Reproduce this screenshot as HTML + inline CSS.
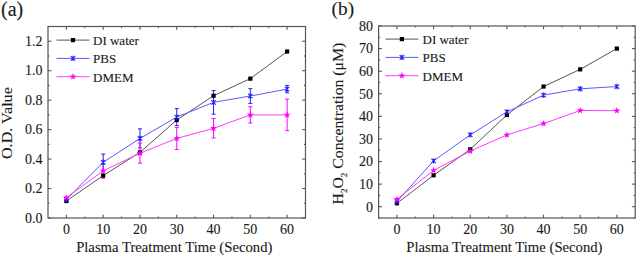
<!DOCTYPE html>
<html><head><meta charset="utf-8"><style>
html,body{margin:0;padding:0;background:#fff;width:637px;height:255px;overflow:hidden}
svg{display:block;font-family:"Liberation Serif",serif;fill:#1a1a1a}
text{fill:#1a1a1a;stroke:#1a1a1a;stroke-width:0.12px}
</style></head><body>
<svg width="637" height="255" viewBox="0 0 637 255">
<rect x="48.0" y="26.5" width="257.5" height="191.5" fill="none" stroke="#555" stroke-width="1.2"/>
<line x1="66.39" y1="218.0" x2="66.39" y2="214.7" stroke="#555" stroke-width="1.1"/>
<line x1="66.39" y1="26.5" x2="66.39" y2="29.8" stroke="#555" stroke-width="1.1"/>
<text x="66.39" y="233.9" font-size="14" text-anchor="middle">0</text>
<line x1="84.79" y1="218.0" x2="84.79" y2="216.5" stroke="#555" stroke-width="1.1"/>
<line x1="84.79" y1="26.5" x2="84.79" y2="28.0" stroke="#555" stroke-width="1.1"/>
<line x1="103.18" y1="218.0" x2="103.18" y2="214.7" stroke="#555" stroke-width="1.1"/>
<line x1="103.18" y1="26.5" x2="103.18" y2="29.8" stroke="#555" stroke-width="1.1"/>
<text x="103.18" y="233.9" font-size="14" text-anchor="middle">10</text>
<line x1="121.57" y1="218.0" x2="121.57" y2="216.5" stroke="#555" stroke-width="1.1"/>
<line x1="121.57" y1="26.5" x2="121.57" y2="28.0" stroke="#555" stroke-width="1.1"/>
<line x1="139.96" y1="218.0" x2="139.96" y2="214.7" stroke="#555" stroke-width="1.1"/>
<line x1="139.96" y1="26.5" x2="139.96" y2="29.8" stroke="#555" stroke-width="1.1"/>
<text x="139.96" y="233.9" font-size="14" text-anchor="middle">20</text>
<line x1="158.36" y1="218.0" x2="158.36" y2="216.5" stroke="#555" stroke-width="1.1"/>
<line x1="158.36" y1="26.5" x2="158.36" y2="28.0" stroke="#555" stroke-width="1.1"/>
<line x1="176.75" y1="218.0" x2="176.75" y2="214.7" stroke="#555" stroke-width="1.1"/>
<line x1="176.75" y1="26.5" x2="176.75" y2="29.8" stroke="#555" stroke-width="1.1"/>
<text x="176.75" y="233.9" font-size="14" text-anchor="middle">30</text>
<line x1="195.14" y1="218.0" x2="195.14" y2="216.5" stroke="#555" stroke-width="1.1"/>
<line x1="195.14" y1="26.5" x2="195.14" y2="28.0" stroke="#555" stroke-width="1.1"/>
<line x1="213.54" y1="218.0" x2="213.54" y2="214.7" stroke="#555" stroke-width="1.1"/>
<line x1="213.54" y1="26.5" x2="213.54" y2="29.8" stroke="#555" stroke-width="1.1"/>
<text x="213.54" y="233.9" font-size="14" text-anchor="middle">40</text>
<line x1="231.93" y1="218.0" x2="231.93" y2="216.5" stroke="#555" stroke-width="1.1"/>
<line x1="231.93" y1="26.5" x2="231.93" y2="28.0" stroke="#555" stroke-width="1.1"/>
<line x1="250.32" y1="218.0" x2="250.32" y2="214.7" stroke="#555" stroke-width="1.1"/>
<line x1="250.32" y1="26.5" x2="250.32" y2="29.8" stroke="#555" stroke-width="1.1"/>
<text x="250.32" y="233.9" font-size="14" text-anchor="middle">50</text>
<line x1="268.71" y1="218.0" x2="268.71" y2="216.5" stroke="#555" stroke-width="1.1"/>
<line x1="268.71" y1="26.5" x2="268.71" y2="28.0" stroke="#555" stroke-width="1.1"/>
<line x1="287.11" y1="218.0" x2="287.11" y2="214.7" stroke="#555" stroke-width="1.1"/>
<line x1="287.11" y1="26.5" x2="287.11" y2="29.8" stroke="#555" stroke-width="1.1"/>
<text x="287.11" y="233.9" font-size="14" text-anchor="middle">60</text>
<line x1="48.0" y1="218.00" x2="51.3" y2="218.00" stroke="#555" stroke-width="1.1"/>
<line x1="305.5" y1="218.00" x2="302.2" y2="218.00" stroke="#555" stroke-width="1.1"/>
<text x="42.5" y="222.80" font-size="14" text-anchor="end">0.0</text>
<line x1="48.0" y1="203.27" x2="49.5" y2="203.27" stroke="#555" stroke-width="1.1"/>
<line x1="305.5" y1="203.27" x2="304.0" y2="203.27" stroke="#555" stroke-width="1.1"/>
<line x1="48.0" y1="188.54" x2="51.3" y2="188.54" stroke="#555" stroke-width="1.1"/>
<line x1="305.5" y1="188.54" x2="302.2" y2="188.54" stroke="#555" stroke-width="1.1"/>
<text x="42.5" y="193.34" font-size="14" text-anchor="end">0.2</text>
<line x1="48.0" y1="173.81" x2="49.5" y2="173.81" stroke="#555" stroke-width="1.1"/>
<line x1="305.5" y1="173.81" x2="304.0" y2="173.81" stroke="#555" stroke-width="1.1"/>
<line x1="48.0" y1="159.08" x2="51.3" y2="159.08" stroke="#555" stroke-width="1.1"/>
<line x1="305.5" y1="159.08" x2="302.2" y2="159.08" stroke="#555" stroke-width="1.1"/>
<text x="42.5" y="163.88" font-size="14" text-anchor="end">0.4</text>
<line x1="48.0" y1="144.35" x2="49.5" y2="144.35" stroke="#555" stroke-width="1.1"/>
<line x1="305.5" y1="144.35" x2="304.0" y2="144.35" stroke="#555" stroke-width="1.1"/>
<line x1="48.0" y1="129.62" x2="51.3" y2="129.62" stroke="#555" stroke-width="1.1"/>
<line x1="305.5" y1="129.62" x2="302.2" y2="129.62" stroke="#555" stroke-width="1.1"/>
<text x="42.5" y="134.42" font-size="14" text-anchor="end">0.6</text>
<line x1="48.0" y1="114.88" x2="49.5" y2="114.88" stroke="#555" stroke-width="1.1"/>
<line x1="305.5" y1="114.88" x2="304.0" y2="114.88" stroke="#555" stroke-width="1.1"/>
<line x1="48.0" y1="100.15" x2="51.3" y2="100.15" stroke="#555" stroke-width="1.1"/>
<line x1="305.5" y1="100.15" x2="302.2" y2="100.15" stroke="#555" stroke-width="1.1"/>
<text x="42.5" y="104.95" font-size="14" text-anchor="end">0.8</text>
<line x1="48.0" y1="85.42" x2="49.5" y2="85.42" stroke="#555" stroke-width="1.1"/>
<line x1="305.5" y1="85.42" x2="304.0" y2="85.42" stroke="#555" stroke-width="1.1"/>
<line x1="48.0" y1="70.69" x2="51.3" y2="70.69" stroke="#555" stroke-width="1.1"/>
<line x1="305.5" y1="70.69" x2="302.2" y2="70.69" stroke="#555" stroke-width="1.1"/>
<text x="42.5" y="75.49" font-size="14" text-anchor="end">1.0</text>
<line x1="48.0" y1="55.96" x2="49.5" y2="55.96" stroke="#555" stroke-width="1.1"/>
<line x1="305.5" y1="55.96" x2="304.0" y2="55.96" stroke="#555" stroke-width="1.1"/>
<line x1="48.0" y1="41.23" x2="51.3" y2="41.23" stroke="#555" stroke-width="1.1"/>
<line x1="305.5" y1="41.23" x2="302.2" y2="41.23" stroke="#555" stroke-width="1.1"/>
<text x="42.5" y="46.03" font-size="14" text-anchor="end">1.2</text>
<line x1="48.0" y1="26.50" x2="49.5" y2="26.50" stroke="#555" stroke-width="1.1"/>
<line x1="305.5" y1="26.50" x2="304.0" y2="26.50" stroke="#555" stroke-width="1.1"/>
<path d="M66.39,201.06 L103.18,175.58 L139.96,152.30 L176.75,120.04 L213.54,95.73 L250.32,78.65 L287.11,51.54" fill="none" stroke="#555" stroke-width="1"/>
<path d="M66.39,199.44 L103.18,162.32 L139.96,138.45 L176.75,117.09 L213.54,102.36 L250.32,96.03 L287.11,89.11" fill="none" stroke="#5a5aff" stroke-width="1"/>
<path d="M66.39,197.67 L103.18,170.86 L139.96,153.18 L176.75,138.45 L213.54,128.29 L250.32,114.88 L287.11,114.88" fill="none" stroke="#ff3cff" stroke-width="1"/>
<path d="M103.18,154.07L103.18,170.57M101.18,154.07L105.18,154.07M101.18,170.57L105.18,170.57" stroke="#2020ff" stroke-width="1" fill="none"/>
<path d="M139.96,128.88L139.96,148.03M137.96,128.88L141.96,128.88M137.96,148.03L141.96,148.03" stroke="#2020ff" stroke-width="1" fill="none"/>
<path d="M176.75,108.55L176.75,125.64M174.75,108.55L178.75,108.55M174.75,125.64L178.75,125.64" stroke="#2020ff" stroke-width="1" fill="none"/>
<path d="M213.54,90.58L213.54,114.15M211.54,90.58L215.54,90.58M211.54,114.15L215.54,114.15" stroke="#2020ff" stroke-width="1" fill="none"/>
<path d="M250.32,88.66L250.32,103.39M248.32,88.66L252.32,88.66M248.32,103.39L252.32,103.39" stroke="#2020ff" stroke-width="1" fill="none"/>
<path d="M287.11,85.42L287.11,92.79M285.11,85.42L289.11,85.42M285.11,92.79L289.11,92.79" stroke="#2020ff" stroke-width="1" fill="none"/>
<path d="M103.18,163.50L103.18,178.23M101.18,163.50L105.18,163.50M101.18,178.23L105.18,178.23" stroke="#ff00ff" stroke-width="1" fill="none"/>
<path d="M139.96,143.17L139.96,163.20M137.96,143.17L141.96,143.17M137.96,163.20L141.96,163.20" stroke="#ff00ff" stroke-width="1" fill="none"/>
<path d="M176.75,127.41L176.75,149.50M174.75,127.41L178.75,127.41M174.75,149.50L178.75,149.50" stroke="#ff00ff" stroke-width="1" fill="none"/>
<path d="M213.54,118.57L213.54,138.01M211.54,118.57L215.54,118.57M211.54,138.01L215.54,138.01" stroke="#ff00ff" stroke-width="1" fill="none"/>
<path d="M250.32,106.78L250.32,122.99M248.32,106.78L252.32,106.78M248.32,122.99L252.32,122.99" stroke="#ff00ff" stroke-width="1" fill="none"/>
<path d="M287.11,99.12L287.11,130.65M285.11,99.12L289.11,99.12M285.11,130.65L289.11,130.65" stroke="#ff00ff" stroke-width="1" fill="none"/>
<rect x="64.29" y="198.96" width="4.2" height="4.2" fill="#000"/>
<rect x="101.08" y="173.48" width="4.2" height="4.2" fill="#000"/>
<rect x="137.86" y="150.20" width="4.2" height="4.2" fill="#000"/>
<rect x="174.65" y="117.94" width="4.2" height="4.2" fill="#000"/>
<rect x="211.44" y="93.63" width="4.2" height="4.2" fill="#000"/>
<rect x="248.22" y="76.55" width="4.2" height="4.2" fill="#000"/>
<rect x="285.01" y="49.44" width="4.2" height="4.2" fill="#000"/>
<path d="M64.19,197.24L68.59,201.64M64.19,201.64L68.59,197.24M66.39,196.74L66.39,202.14" stroke="#2020ff" stroke-width="1.1" fill="none"/>
<path d="M100.98,160.12L105.38,164.52M100.98,164.52L105.38,160.12M103.18,159.62L103.18,165.02" stroke="#2020ff" stroke-width="1.1" fill="none"/>
<path d="M137.76,136.25L142.16,140.65M137.76,140.65L142.16,136.25M139.96,135.75L139.96,141.15" stroke="#2020ff" stroke-width="1.1" fill="none"/>
<path d="M174.55,114.89L178.95,119.29M174.55,119.29L178.95,114.89M176.75,114.39L176.75,119.79" stroke="#2020ff" stroke-width="1.1" fill="none"/>
<path d="M211.34,100.16L215.74,104.56M211.34,104.56L215.74,100.16M213.54,99.66L213.54,105.06" stroke="#2020ff" stroke-width="1.1" fill="none"/>
<path d="M248.12,93.83L252.52,98.23M248.12,98.23L252.52,93.83M250.32,93.33L250.32,98.73" stroke="#2020ff" stroke-width="1.1" fill="none"/>
<path d="M284.91,86.91L289.31,91.31M284.91,91.31L289.31,86.91M287.11,86.41L287.11,91.81" stroke="#2020ff" stroke-width="1.1" fill="none"/>
<polygon points="66.39,194.07 67.27,196.46 69.82,196.56 67.82,198.14 68.51,200.58 66.39,199.17 64.28,200.58 64.97,198.14 62.97,196.56 65.51,196.46" fill="#ff00ff"/>
<polygon points="103.18,167.26 104.06,169.65 106.60,169.75 104.61,171.33 105.29,173.77 103.18,172.36 101.06,173.77 101.75,171.33 99.75,169.75 102.30,169.65" fill="#ff00ff"/>
<polygon points="139.96,149.58 140.85,151.97 143.39,152.07 141.39,153.65 142.08,156.10 139.96,154.68 137.85,156.10 138.54,153.65 136.54,152.07 139.08,151.97" fill="#ff00ff"/>
<polygon points="176.75,134.85 177.63,137.24 180.17,137.34 178.18,138.92 178.87,141.37 176.75,139.95 174.63,141.37 175.32,138.92 173.33,137.34 175.87,137.24" fill="#ff00ff"/>
<polygon points="213.54,124.69 214.42,127.08 216.96,127.18 214.96,128.75 215.65,131.20 213.54,129.79 211.42,131.20 212.11,128.75 210.11,127.18 212.65,127.08" fill="#ff00ff"/>
<polygon points="250.32,111.28 251.20,113.67 253.75,113.77 251.75,115.35 252.44,117.80 250.32,116.38 248.21,117.80 248.89,115.35 246.90,113.77 249.44,113.67" fill="#ff00ff"/>
<polygon points="287.11,111.28 287.99,113.67 290.53,113.77 288.53,115.35 289.22,117.80 287.11,116.38 284.99,117.80 285.68,115.35 283.68,113.77 286.23,113.67" fill="#ff00ff"/>
<line x1="56.5" y1="40.1" x2="89.5" y2="40.1" stroke="#555" stroke-width="1"/>
<rect x="70.90" y="38.00" width="4.2" height="4.2" fill="#000"/>
<text x="93" y="45.0" font-size="13">DI water</text>
<line x1="56.5" y1="58.400000000000006" x2="89.5" y2="58.400000000000006" stroke="#5a5aff" stroke-width="1"/>
<path d="M70.80,56.20L75.20,60.60M70.80,60.60L75.20,56.20M73.00,55.70L73.00,61.10" stroke="#2020ff" stroke-width="1.1" fill="none"/>
<text x="93" y="63.300000000000004" font-size="13">PBS</text>
<line x1="56.5" y1="76.7" x2="89.5" y2="76.7" stroke="#ff3cff" stroke-width="1"/>
<polygon points="73.00,73.10 73.88,75.49 76.42,75.59 74.43,77.16 75.12,79.61 73.00,78.20 70.88,79.61 71.57,77.16 69.58,75.59 72.12,75.49" fill="#ff00ff"/>
<text x="93" y="81.60000000000001" font-size="13">DMEM</text>
<rect x="378.6" y="26.0" width="256.6" height="192.0" fill="none" stroke="#555" stroke-width="1.2"/>
<line x1="396.93" y1="218.0" x2="396.93" y2="214.7" stroke="#555" stroke-width="1.1"/>
<line x1="396.93" y1="26.0" x2="396.93" y2="29.3" stroke="#555" stroke-width="1.1"/>
<text x="396.93" y="233.9" font-size="14" text-anchor="middle">0</text>
<line x1="415.26" y1="218.0" x2="415.26" y2="216.5" stroke="#555" stroke-width="1.1"/>
<line x1="415.26" y1="26.0" x2="415.26" y2="27.5" stroke="#555" stroke-width="1.1"/>
<line x1="433.59" y1="218.0" x2="433.59" y2="214.7" stroke="#555" stroke-width="1.1"/>
<line x1="433.59" y1="26.0" x2="433.59" y2="29.3" stroke="#555" stroke-width="1.1"/>
<text x="433.59" y="233.9" font-size="14" text-anchor="middle">10</text>
<line x1="451.91" y1="218.0" x2="451.91" y2="216.5" stroke="#555" stroke-width="1.1"/>
<line x1="451.91" y1="26.0" x2="451.91" y2="27.5" stroke="#555" stroke-width="1.1"/>
<line x1="470.24" y1="218.0" x2="470.24" y2="214.7" stroke="#555" stroke-width="1.1"/>
<line x1="470.24" y1="26.0" x2="470.24" y2="29.3" stroke="#555" stroke-width="1.1"/>
<text x="470.24" y="233.9" font-size="14" text-anchor="middle">20</text>
<line x1="488.57" y1="218.0" x2="488.57" y2="216.5" stroke="#555" stroke-width="1.1"/>
<line x1="488.57" y1="26.0" x2="488.57" y2="27.5" stroke="#555" stroke-width="1.1"/>
<line x1="506.90" y1="218.0" x2="506.90" y2="214.7" stroke="#555" stroke-width="1.1"/>
<line x1="506.90" y1="26.0" x2="506.90" y2="29.3" stroke="#555" stroke-width="1.1"/>
<text x="506.90" y="233.9" font-size="14" text-anchor="middle">30</text>
<line x1="525.23" y1="218.0" x2="525.23" y2="216.5" stroke="#555" stroke-width="1.1"/>
<line x1="525.23" y1="26.0" x2="525.23" y2="27.5" stroke="#555" stroke-width="1.1"/>
<line x1="543.56" y1="218.0" x2="543.56" y2="214.7" stroke="#555" stroke-width="1.1"/>
<line x1="543.56" y1="26.0" x2="543.56" y2="29.3" stroke="#555" stroke-width="1.1"/>
<text x="543.56" y="233.9" font-size="14" text-anchor="middle">40</text>
<line x1="561.89" y1="218.0" x2="561.89" y2="216.5" stroke="#555" stroke-width="1.1"/>
<line x1="561.89" y1="26.0" x2="561.89" y2="27.5" stroke="#555" stroke-width="1.1"/>
<line x1="580.21" y1="218.0" x2="580.21" y2="214.7" stroke="#555" stroke-width="1.1"/>
<line x1="580.21" y1="26.0" x2="580.21" y2="29.3" stroke="#555" stroke-width="1.1"/>
<text x="580.21" y="233.9" font-size="14" text-anchor="middle">50</text>
<line x1="598.54" y1="218.0" x2="598.54" y2="216.5" stroke="#555" stroke-width="1.1"/>
<line x1="598.54" y1="26.0" x2="598.54" y2="27.5" stroke="#555" stroke-width="1.1"/>
<line x1="616.87" y1="218.0" x2="616.87" y2="214.7" stroke="#555" stroke-width="1.1"/>
<line x1="616.87" y1="26.0" x2="616.87" y2="29.3" stroke="#555" stroke-width="1.1"/>
<text x="616.87" y="233.9" font-size="14" text-anchor="middle">60</text>
<line x1="378.6" y1="218.00" x2="380.1" y2="218.00" stroke="#555" stroke-width="1.1"/>
<line x1="635.2" y1="218.00" x2="633.7" y2="218.00" stroke="#555" stroke-width="1.1"/>
<line x1="378.6" y1="206.71" x2="381.90000000000003" y2="206.71" stroke="#555" stroke-width="1.1"/>
<line x1="635.2" y1="206.71" x2="631.9000000000001" y2="206.71" stroke="#555" stroke-width="1.1"/>
<text x="373.1" y="211.51" font-size="14" text-anchor="end">0</text>
<line x1="378.6" y1="195.41" x2="380.1" y2="195.41" stroke="#555" stroke-width="1.1"/>
<line x1="635.2" y1="195.41" x2="633.7" y2="195.41" stroke="#555" stroke-width="1.1"/>
<line x1="378.6" y1="184.12" x2="381.90000000000003" y2="184.12" stroke="#555" stroke-width="1.1"/>
<line x1="635.2" y1="184.12" x2="631.9000000000001" y2="184.12" stroke="#555" stroke-width="1.1"/>
<text x="373.1" y="188.92" font-size="14" text-anchor="end">10</text>
<line x1="378.6" y1="172.82" x2="380.1" y2="172.82" stroke="#555" stroke-width="1.1"/>
<line x1="635.2" y1="172.82" x2="633.7" y2="172.82" stroke="#555" stroke-width="1.1"/>
<line x1="378.6" y1="161.53" x2="381.90000000000003" y2="161.53" stroke="#555" stroke-width="1.1"/>
<line x1="635.2" y1="161.53" x2="631.9000000000001" y2="161.53" stroke="#555" stroke-width="1.1"/>
<text x="373.1" y="166.33" font-size="14" text-anchor="end">20</text>
<line x1="378.6" y1="150.24" x2="380.1" y2="150.24" stroke="#555" stroke-width="1.1"/>
<line x1="635.2" y1="150.24" x2="633.7" y2="150.24" stroke="#555" stroke-width="1.1"/>
<line x1="378.6" y1="138.94" x2="381.90000000000003" y2="138.94" stroke="#555" stroke-width="1.1"/>
<line x1="635.2" y1="138.94" x2="631.9000000000001" y2="138.94" stroke="#555" stroke-width="1.1"/>
<text x="373.1" y="143.74" font-size="14" text-anchor="end">30</text>
<line x1="378.6" y1="127.65" x2="380.1" y2="127.65" stroke="#555" stroke-width="1.1"/>
<line x1="635.2" y1="127.65" x2="633.7" y2="127.65" stroke="#555" stroke-width="1.1"/>
<line x1="378.6" y1="116.35" x2="381.90000000000003" y2="116.35" stroke="#555" stroke-width="1.1"/>
<line x1="635.2" y1="116.35" x2="631.9000000000001" y2="116.35" stroke="#555" stroke-width="1.1"/>
<text x="373.1" y="121.15" font-size="14" text-anchor="end">40</text>
<line x1="378.6" y1="105.06" x2="380.1" y2="105.06" stroke="#555" stroke-width="1.1"/>
<line x1="635.2" y1="105.06" x2="633.7" y2="105.06" stroke="#555" stroke-width="1.1"/>
<line x1="378.6" y1="93.76" x2="381.90000000000003" y2="93.76" stroke="#555" stroke-width="1.1"/>
<line x1="635.2" y1="93.76" x2="631.9000000000001" y2="93.76" stroke="#555" stroke-width="1.1"/>
<text x="373.1" y="98.56" font-size="14" text-anchor="end">50</text>
<line x1="378.6" y1="82.47" x2="380.1" y2="82.47" stroke="#555" stroke-width="1.1"/>
<line x1="635.2" y1="82.47" x2="633.7" y2="82.47" stroke="#555" stroke-width="1.1"/>
<line x1="378.6" y1="71.18" x2="381.90000000000003" y2="71.18" stroke="#555" stroke-width="1.1"/>
<line x1="635.2" y1="71.18" x2="631.9000000000001" y2="71.18" stroke="#555" stroke-width="1.1"/>
<text x="373.1" y="75.98" font-size="14" text-anchor="end">60</text>
<line x1="378.6" y1="59.88" x2="380.1" y2="59.88" stroke="#555" stroke-width="1.1"/>
<line x1="635.2" y1="59.88" x2="633.7" y2="59.88" stroke="#555" stroke-width="1.1"/>
<line x1="378.6" y1="48.59" x2="381.90000000000003" y2="48.59" stroke="#555" stroke-width="1.1"/>
<line x1="635.2" y1="48.59" x2="631.9000000000001" y2="48.59" stroke="#555" stroke-width="1.1"/>
<text x="373.1" y="53.39" font-size="14" text-anchor="end">70</text>
<line x1="378.6" y1="37.29" x2="380.1" y2="37.29" stroke="#555" stroke-width="1.1"/>
<line x1="635.2" y1="37.29" x2="633.7" y2="37.29" stroke="#555" stroke-width="1.1"/>
<line x1="378.6" y1="26.00" x2="381.90000000000003" y2="26.00" stroke="#555" stroke-width="1.1"/>
<line x1="635.2" y1="26.00" x2="631.9000000000001" y2="26.00" stroke="#555" stroke-width="1.1"/>
<text x="373.1" y="30.80" font-size="14" text-anchor="end">80</text>
<path d="M396.93,203.32 L433.59,175.31 L470.24,149.33 L506.90,115.00 L543.56,86.54 L580.21,69.37 L616.87,48.59" fill="none" stroke="#555" stroke-width="1"/>
<path d="M396.93,201.51 L433.59,160.85 L470.24,134.88 L506.90,111.84 L543.56,95.12 L580.21,88.80 L616.87,86.54" fill="none" stroke="#5a5aff" stroke-width="1"/>
<path d="M396.93,199.25 L433.59,170.34 L470.24,151.14 L506.90,134.88 L543.56,123.58 L580.21,110.48 L616.87,110.71" fill="none" stroke="#ff3cff" stroke-width="1"/>
<rect x="394.83" y="201.22" width="4.2" height="4.2" fill="#000"/>
<rect x="431.49" y="173.21" width="4.2" height="4.2" fill="#000"/>
<rect x="468.14" y="147.23" width="4.2" height="4.2" fill="#000"/>
<rect x="504.80" y="112.90" width="4.2" height="4.2" fill="#000"/>
<rect x="541.46" y="84.44" width="4.2" height="4.2" fill="#000"/>
<rect x="578.11" y="67.27" width="4.2" height="4.2" fill="#000"/>
<rect x="614.77" y="46.49" width="4.2" height="4.2" fill="#000"/>
<path d="M394.73,199.31L399.13,203.71M394.73,203.71L399.13,199.31M396.93,198.81L396.93,204.21" stroke="#2020ff" stroke-width="1.1" fill="none"/>
<path d="M431.39,158.65L435.79,163.05M431.39,163.05L435.79,158.65M433.59,158.15L433.59,163.55" stroke="#2020ff" stroke-width="1.1" fill="none"/>
<path d="M468.04,132.68L472.44,137.08M468.04,137.08L472.44,132.68M470.24,132.18L470.24,137.58" stroke="#2020ff" stroke-width="1.1" fill="none"/>
<path d="M504.70,109.64L509.10,114.04M504.70,114.04L509.10,109.64M506.90,109.14L506.90,114.54" stroke="#2020ff" stroke-width="1.1" fill="none"/>
<path d="M541.36,92.92L545.76,97.32M541.36,97.32L545.76,92.92M543.56,92.42L543.56,97.82" stroke="#2020ff" stroke-width="1.1" fill="none"/>
<path d="M578.01,86.60L582.41,91.00M578.01,91.00L582.41,86.60M580.21,86.10L580.21,91.50" stroke="#2020ff" stroke-width="1.1" fill="none"/>
<path d="M614.67,84.34L619.07,88.74M614.67,88.74L619.07,84.34M616.87,83.84L616.87,89.24" stroke="#2020ff" stroke-width="1.1" fill="none"/>
<polygon points="396.93,195.65 397.81,198.04 400.35,198.14 398.36,199.72 399.04,202.16 396.93,200.75 394.81,202.16 395.50,199.72 393.50,198.14 396.05,198.04" fill="#ff00ff"/>
<polygon points="433.59,166.74 434.47,169.13 437.01,169.23 435.01,170.80 435.70,173.25 433.59,171.84 431.47,173.25 432.16,170.80 430.16,169.23 432.70,169.13" fill="#ff00ff"/>
<polygon points="470.24,147.54 471.12,149.93 473.67,150.03 471.67,151.60 472.36,154.05 470.24,152.64 468.13,154.05 468.82,151.60 466.82,150.03 469.36,149.93" fill="#ff00ff"/>
<polygon points="506.90,131.28 507.78,133.66 510.32,133.76 508.33,135.34 509.02,137.79 506.90,136.38 504.78,137.79 505.47,135.34 503.48,133.76 506.02,133.66" fill="#ff00ff"/>
<polygon points="543.56,119.98 544.44,122.37 546.98,122.47 544.98,124.04 545.67,126.49 543.56,125.08 541.44,126.49 542.13,124.04 540.13,122.47 542.68,122.37" fill="#ff00ff"/>
<polygon points="580.21,106.88 581.10,109.27 583.64,109.37 581.64,110.94 582.33,113.39 580.21,111.98 578.10,113.39 578.79,110.94 576.79,109.37 579.33,109.27" fill="#ff00ff"/>
<polygon points="616.87,107.11 617.75,109.49 620.30,109.59 618.30,111.17 618.99,113.62 616.87,112.21 614.76,113.62 615.44,111.17 613.45,109.59 615.99,109.49" fill="#ff00ff"/>
<line x1="385.4" y1="39.1" x2="418.4" y2="39.1" stroke="#555" stroke-width="1"/>
<rect x="399.80" y="37.00" width="4.2" height="4.2" fill="#000"/>
<text x="422.5" y="44.0" font-size="13">DI water</text>
<line x1="385.4" y1="57.400000000000006" x2="418.4" y2="57.400000000000006" stroke="#5a5aff" stroke-width="1"/>
<path d="M399.70,55.20L404.10,59.60M399.70,59.60L404.10,55.20M401.90,54.70L401.90,60.10" stroke="#2020ff" stroke-width="1.1" fill="none"/>
<text x="422.5" y="62.300000000000004" font-size="13">PBS</text>
<line x1="385.4" y1="75.7" x2="418.4" y2="75.7" stroke="#ff3cff" stroke-width="1"/>
<polygon points="401.90,72.10 402.78,74.49 405.32,74.59 403.33,76.16 404.02,78.61 401.90,77.20 399.78,78.61 400.47,76.16 398.48,74.59 401.02,74.49" fill="#ff00ff"/>
<text x="422.5" y="80.60000000000001" font-size="13">DMEM</text>
<text x="1" y="16.3" font-size="20">(a)</text>
<text x="331.6" y="15.2" font-size="19.3">(b)</text>
<text x="174.25" y="252.1" font-size="14.7" text-anchor="middle">Plasma Treatment Time (Second)</text>
<text x="504.40" y="252.1" font-size="14.7" text-anchor="middle">Plasma Treatment Time (Second)</text>
<text transform="translate(12.3,123.1) rotate(-90) scale(1.1,1)" font-size="14.7" text-anchor="middle">O.D. Value</text>
<text transform="translate(342.6,123.6) rotate(-90) scale(1.07,1)" font-size="14.7" text-anchor="middle">H<tspan font-size="8.5" dy="4.3">2</tspan><tspan dy="-4.3">O</tspan><tspan font-size="8.5" dy="4.3">2</tspan><tspan dy="-4.3"> Concentration (μM)</tspan></text>
</svg></body></html>
